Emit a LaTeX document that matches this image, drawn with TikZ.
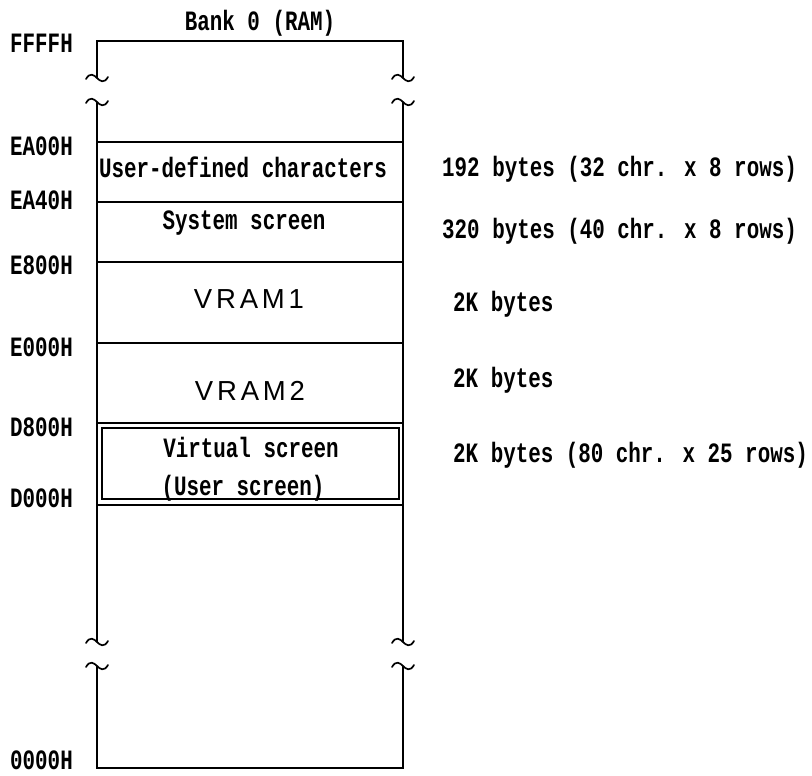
\documentclass[tikz,border=0pt]{standalone}
\usepackage{fontspec}
\newfontfamily\lblfont[FakeStretch=0.745]{Liberation Mono}
\newfontfamily\vramfont[LetterSpace=14]{Liberation Sans}
\begin{document}
\begin{tikzpicture}[x=1pt,y=-1pt,
  wall/.style={line width=1.7pt, line cap=round},
  sep/.style={line width=1.5pt},
  lbl/.style={font=\lblfont\bfseries\fontsize{28}{32}\selectfont, inner sep=0pt},
  addr/.style={lbl, anchor=base west},
  note/.style={lbl, anchor=base west},
  area/.style={lbl, anchor=base},
  vram/.style={font=\vramfont\fontsize{27.5}{30}\selectfont, inner sep=0pt, anchor=base},
  brk/.pic={\draw[wall] (-11,1) .. controls (-7,-6) and (-3,-3) .. (0,0) .. controls (3,3) and (7,6) .. (11,-1);}
]
\useasboundingbox (0,0) rectangle (812,776);

% outline
\coordinate (tl) at (97,41);
\coordinate (tr) at (403,41);
\coordinate (bl) at (97,768);
\coordinate (br) at (403,768);
\draw[wall] (97,78) -- (tl) -- (tr) -- (403,78);
\draw[wall] (97,102) -- (97,642);
\draw[wall] (403,102) -- (403,642);
\draw[wall] (97,666) -- (bl) -- (br) -- (403,666);
\pic at (97,78) {brk};
\pic at (403,78) {brk};
\pic at (97,102) {brk};
\pic at (403,102) {brk};
\pic at (97,642) {brk};
\pic at (403,642) {brk};
\pic at (97,666) {brk};
\pic at (403,666) {brk};

% separators
\foreach \yy in {142,202,262,343,423,505}
  \draw[sep] (97,\yy) -- (403,\yy);
% virtual screen inner frame
\draw[line width=1.4pt] (102,428) rectangle (399,499);

% title
\node[area] (bank) at (260,31) {Bank 0 (RAM)};

% area names
\node[area] (udc) at (243,177) {User-defined characters};
\node[area] (sys) at (244,229) {System screen};
\node[vram] (v1) at (249,308) {VRAM1};
\node[vram] (v2) at (250,400) {VRAM2};
\node[area] (virt) at (251,457) {Virtual screen};
\node[area] (user) at (243,495) {(User screen)};

% addresses
\node[addr] (aFFFF) at (10,53) {FFFFH};
\node[addr] (aEA00) at (10,155) {EA00H};
\node[addr] (aEA40) at (10,209) {EA40H};
\node[addr] (aE800) at (10,274) {E800H};
\node[addr] (aE000) at (10,356) {E000H};
\node[addr] (aD800) at (10,436) {D800H};
\node[addr] (aD000) at (10,507) {D000H};
\node[addr] (a0000) at (10,769) {0000H};

% sizes
\node[note] (s1) at (442,176) {192 bytes (32 chr. x 8 rows)};
\node[note] (s2) at (442,238) {320 bytes (40 chr. x 8 rows)};
\node[note] (s3) at (453,311) {2K bytes};
\node[note] (s4) at (453,387) {2K bytes};
\node[note] (s5) at (453,462) {2K bytes (80 chr. x 25 rows)};
\end{tikzpicture}
\end{document}
